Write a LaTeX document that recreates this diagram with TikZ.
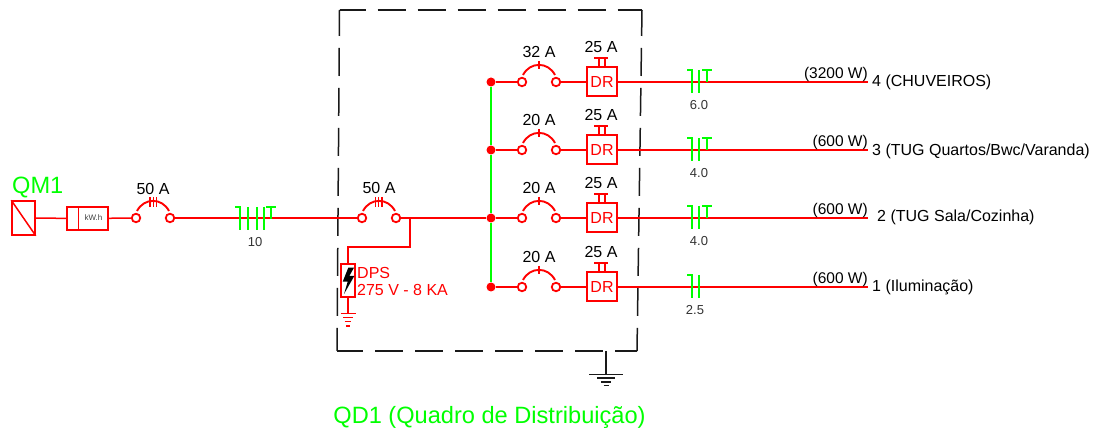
\documentclass[tikz,border=0pt]{standalone}
\usepackage{xcolor}
\usepackage{fontspec}
\setmainfont{Liberation Sans}
\definecolor{wireRed}{RGB}{255,0,0}
\definecolor{cableGreen}{RGB}{0,255,0}
\tikzset{
  wire/.style={draw=wireRed, line width=1.5pt},
  cable/.style={draw=cableGreen, line width=1.9pt},
  frameLine/.style={draw=black!90, line width=1.5pt},
  frameDash/.style={frameLine, dash pattern=on 28pt off 12pt, dash phase=2pt},
  rating/.style={font=\fontsize{16}{18}\selectfont, inner sep=0pt},
  gauge/.style={font=\fontsize{13}{15}\selectfont, text=black!80, inner sep=0pt},
  terminal/.style={circle, draw=wireRed, line width=1.8pt, fill=white, minimum size=8.5pt, inner sep=0pt},
  busDot/.style={circle, fill=wireRed, minimum size=9pt, inner sep=0pt},
  drBox/.style={rectangle, draw=wireRed, line width=2pt, minimum width=30pt, minimum height=29pt, inner sep=0pt, text=wireRed, font=\fontsize{16}{18}\selectfont},
  power/.style={font=\fontsize{15.5}{17}\selectfont, inner sep=0pt, anchor=base east},
  circuitName/.style={font=\fontsize{16}{18}\selectfont, inner sep=0pt, anchor=base west},
  title/.style={font=\fontsize{23.6}{26}\selectfont, text=cableGreen, inner sep=0pt}
}
% breaker: name, centre x, row y
\newcommand{\breakerArc}[3]{
  \node[terminal] (#1L) at (#2-17,#3) {};
  \node[terminal] (#1R) at (#2+17,#3) {};
  \draw[wire, line width=1.9pt] (#2-16,#3-7) .. controls (#2-9,#3-20.5) and (#2+9,#3-20.5) .. (#2+16,#3-7);
}
% earth: top y, style, centre x, four half widths, spacing
\newcommand{\groundMark}[8]{
  \foreach \i/\w in {0/#4,1/#5,2/#6,3/#7}
    \draw[#2] (#3-\w,#1+\i*#8) -- (#3+\w,#1+\i*#8);
}
\begin{document}
\begin{tikzpicture}[x=1pt,y=-1pt]
  \useasboundingbox (0,0) rectangle (1093,430);
  \fill[white] (0,0) rectangle (1093,430);

  % frame
  \coordinate (frameNW) at (339.5,10);
  \coordinate (frameNE) at (642,10);
  \coordinate (frameSE) at (637,351);
  \coordinate (frameSW) at (337,351);
  \draw[frameDash] (frameNW) -- (frameNE);
  \draw[frameDash] (frameSW) -- (frameSE);
  \draw[frameDash] (frameNW) -- (frameSW);
  \draw[frameDash] (frameNE) -- (frameSE);
  \coordinate (frameTap) at (606,351);
  \coordinate (frameEarth) at (606,374.5);
  \draw[frameLine] (frameTap) -- (frameEarth);
  \groundMark{374.5}{frameLine}{606}{17}{9}{5}{2.5}{3.7}

  % input side
  \node[title, anchor=west] (qmLabel) at (12,187) {QM1};
  \node[rectangle, draw=wireRed, line width=1.5pt, minimum width=23pt, minimum height=34pt, inner sep=0pt] (qmBox) at (23.5,218) {};
  \draw[wire] (qmBox.north west) -- (qmBox.south east);
  \node[rectangle, draw=wireRed, line width=1.5pt, minimum width=41pt, minimum height=23pt, inner sep=0pt] (meter) at (87.5,218.5) {};
  \draw[wire] (78.7,207) -- (78.7,230);
  \node[font=\fontsize{8}{9}\selectfont, text=black!75, inner sep=0pt] (meterText) at (93.5,218) {kW.h};
  \breakerArc{mainA}{153}{218}
  \breakerArc{mainB}{379}{218}
  \foreach \tx in {150,153.3,156.7}
    \draw[wire, line width=1.3pt] (\tx,197) -- (\tx,207);
  \foreach \tx in {375.5,378.7,382}
    \draw[wire, line width=1.3pt] (\tx,197) -- (\tx,207);
  \node[rating] (mainALabel) at (153,188.5) {50 A};
  \node[rating] (mainBLabel) at (379,187.5) {50 A};
  \draw[wire] (qmBox) -- (meter);
  \draw[wire] (meter) -- (mainAL);
  \draw[wire] (mainAR) -- (mainBL);

  % main cable
  \draw[cable] (235,207) -- (240,207) -- (240,230);
  \foreach \tx in {248,257,264}
    \draw[cable] (\tx,207) -- (\tx,230);
  \draw[cable] (266,207) -- (276,207) (271,207) -- (271,219);
  \node[gauge] (mainGauge) at (255,242) {10};

  % bus
  \node[busDot] (bus4) at (491,82) {};
  \node[busDot] (bus3) at (491,150) {};
  \node[busDot] (bus2) at (491,218) {};
  \node[busDot] (bus1) at (491,287) {};
  \draw[cable, line width=2.2pt] (bus4) -- (bus3);
  \draw[cable, line width=2.2pt] (bus3) -- (bus2);
  \draw[cable, line width=2.2pt] (bus2) -- (bus1);
  \draw[wire] (mainBR) -- (bus2);

  % surge protector
  \coordinate (dpsTap) at (410,218);
  \coordinate (dpsBend) at (410,247);
  \node[rectangle, draw=wireRed, line width=2pt, minimum width=14pt, minimum height=33pt, inner sep=0pt] (dps) at (348,280.5) {};
  \coordinate (dpsEarth) at (348,313.3);
  \draw[wire] (dpsTap) -- (dpsBend) -| (dps.north);
  \draw[wire] (dps.south) -- (dpsEarth);
  \groundMark{313.3}{wire}{348}{7.5}{5}{3.3}{1.7}{4.2}
  \fill[black] (354,267.7) -- (348.3,267.7) -- (342.7,281.7) -- (347.7,281.7) -- (344,294) -- (354.3,276) -- (349.3,276) -- cycle;
  \node[anchor=west, text=wireRed, font=\fontsize{16}{18}\selectfont, inner sep=0pt] (dpsName) at (357,273) {DPS};
  \node[anchor=west, text=wireRed, font=\fontsize{16}{18}\selectfont, inner sep=0pt] (dpsRating) at (357,289.5) {275 V - 8 KA};

  % circuits
  \foreach \n/\y/\amp/\gx/\gaugeText/\load/\nx/\ny/\name in {
      4/82/32 A/699/6.0/(3200 W)/872/5/{4 (CHUVEIROS)},
      3/150/20 A/699/4.0/(600 W)/872/6/{3 (TUG Quartos/Bwc/Varanda)},
      2/218/20 A/699/4.0/(600 W)/877/4/{2 (TUG Sala/Cozinha)},
      1/287/20 A/695/2.5/(600 W)/872/5/{1 (Iluminação)}}{
    \breakerArc{cb\n}{539}{\y}
    \draw[wire] (539,\y-21) -- (539,\y-13);
    \node[rating] (cb\n Label) at (539,\y-30.5) {\amp};
    \node[drBox] (dr\n) at (602,\y) {DR};
    \draw[wire, line width=1.8pt] (594,\y-24) -- (608,\y-24) (599,\y-24) -- (599,\y-15) (605,\y-24) -- (605,\y-15);
    \node[rating] (dr\n Label) at (601,\y-35) {25 A};
    \coordinate (end\n) at (868,\y);
    \draw[wire] (bus\n) -- (cb\n L);
    \draw[wire] (cb\n R) -- (dr\n);
    \draw[wire] (dr\n) -- (end\n);
    \draw[cable] (687,\y-12) -- (692,\y-12) -- (692,\y+11);
    \draw[cable] (699,\y-12) -- (699,\y+11);
    \node[gauge] (gauge\n) at (\gx,\y+23) {\gaugeText};
    \node[power] (load\n) at (868,\y-3.5) {\load};
    \node[circuitName] (name\n) at (\nx,\y+\ny) {\name};
  }
  \foreach \y in {82,150,218}{
    \draw[cable] (702,\y-12) -- (712,\y-12) (707,\y-12) -- (707,\y);
  }

  % title
  \node[title] (qdLabel) at (489.5,417) {QD1 (Quadro de Distribuição)};
\end{tikzpicture}
\end{document}
